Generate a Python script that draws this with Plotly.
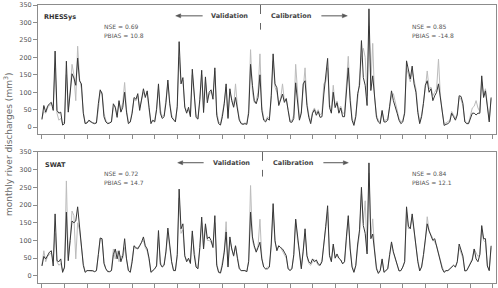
import plotly.graph_objects as go

months = list(range(240))
year_ticks = list(range(0, 241, 12))
y_ticks = [0, 50, 100, 150, 200, 250, 300, 350]

# RHESSys panel (dark / light lines), monthly values
rhessys_dark = [
    22, 62, 43, 60, 67, 71, 48, 218, 48, 40, 43, 6,
    10, 189, 43, 90, 153, 141, 120, 198, 133, 124, 40, 10,
    12, 20, 15, 12, 10, 12, 67, 107, 95, 30, 15, 10,
    12, 15, 67, 57, 28, 76, 43, 57, 100, 43, 10, 15,
    40, 85, 80, 96, 48, 80, 110, 85, 104, 57, 10, 20,
    15, 50, 124, 40, 25, 30, 70, 135, 67, 28, 20, 15,
    60, 245, 124, 142, 57, 40, 57, 30, 166, 80, 28, 23,
    80, 163, 42, 144, 70, 100, 107, 80, 170, 34, 10, 6,
    30, 67, 124, 25, 110, 76, 57, 85, 50, 20, 10, 8,
    10, 8, 40, 180, 120, 76, 67, 85, 150, 48, 20, 15,
    25, 20, 90, 210, 124, 113, 62, 78, 95, 71, 82, 48,
    15, 14, 25, 127, 82, 20, 40, 124, 133, 62, 28, 10,
    40, 50, 34, 45, 28, 30, 95, 140, 197, 57, 40, 100,
    56, 70, 40, 55, 30, 30, 100, 170, 76, 20, 5, 30,
    96, 120, 248, 142, 120, 62, 339, 105, 147, 76, 28, 15,
    10, 48, 15, 15, 20, 60, 104, 76, 60, 40, 20, 10,
    15, 40, 190, 160, 138, 175, 124, 100, 42, 10, 30, 68,
    120, 133, 100, 110, 76, 90, 100, 124, 80, 40, 5, 8,
    10, 15, 40, 30, 20, 35, 90, 88, 68, 15, 10, 10,
    25, 40, 40, 35, 40, 40, 147, 85, 104, 60, 15, 85,
]
rhessys_light = [
    25, 45, 40, 55, 62, 65, 60, 170, 40, 20, 25, 10,
    15, 150, 50, 100, 180, 150, 76, 232, 140, 110, 45, 12,
    14, 18, 14, 13, 12, 14, 50, 105, 100, 40, 20, 12,
    12, 18, 55, 60, 35, 70, 50, 70, 128, 50, 15, 14,
    45, 80, 75, 90, 55, 75, 100, 90, 95, 50, 15, 18,
    18, 55, 110, 50, 30, 35, 75, 125, 70, 35, 22, 18,
    55, 200, 130, 135, 60, 45, 50, 35, 150, 85, 35, 25,
    70, 150, 50, 130, 80, 95, 100, 90, 160, 45, 15, 10,
    35, 70, 115, 30, 100, 80, 60, 124, 60, 25, 12, 10,
    12, 10, 50, 222, 100, 70, 75, 100, 210, 60, 25, 18,
    30, 25, 80, 190, 115, 100, 70, 80, 124, 75, 80, 50,
    20, 18, 35, 180, 95, 25, 45, 110, 170, 70, 35, 15,
    45, 55, 40, 50, 35, 40, 125, 130, 170, 65, 50, 120,
    60, 75, 50, 60, 40, 40, 120, 203, 90, 25, 10, 35,
    80, 130, 200, 226, 200, 90, 290, 120, 240, 85, 35, 20,
    15, 45, 20, 20, 25, 55, 90, 96, 70, 45, 25, 15,
    20, 45, 170, 150, 130, 160, 130, 110, 50, 15, 35, 70,
    110, 161, 110, 115, 90, 100, 110, 195, 90, 45, 10, 12,
    15, 20, 45, 35, 25, 40, 85, 80, 60, 20, 12, 12,
    30, 55, 60, 76, 55, 45, 130, 90, 110, 65, 20, 80,
]

# SWAT panel (dark / light lines), monthly values
swat_dark = [
    28, 55, 48, 60, 67, 71, 28, 175, 43, 40, 48, 10,
    25, 180, 43, 100, 155, 150, 155, 195, 138, 76, 30, 10,
    15, 15, 15, 15, 12, 15, 60, 107, 105, 35, 20, 12,
    12, 15, 60, 76, 48, 71, 40, 57, 105, 48, 15, 10,
    40, 85, 80, 76, 85, 95, 110, 85, 76, 50, 10, 15,
    20, 28, 128, 33, 25, 30, 70, 135, 76, 40, 15, 15,
    60, 245, 133, 147, 57, 40, 50, 35, 127, 60, 25, 20,
    80, 166, 76, 147, 105, 110, 100, 80, 170, 30, 10, 8,
    30, 67, 124, 25, 110, 76, 57, 85, 50, 20, 15, 15,
    15, 12, 40, 180, 110, 85, 67, 80, 95, 48, 25, 20,
    20, 25, 90, 204, 100, 71, 85, 80, 76, 67, 57, 20,
    15, 20, 60, 160, 110, 71, 20, 70, 133, 57, 40, 35,
    48, 40, 45, 34, 30, 40, 85, 140, 198, 57, 40, 90,
    50, 62, 50, 45, 34, 40, 110, 170, 76, 25, 10, 30,
    90, 130, 250, 142, 120, 62, 319, 105, 118, 76, 20, 7,
    15, 48, 10, 15, 20, 60, 96, 68, 48, 30, 14, 15,
    25, 40, 195, 140, 133, 175, 127, 80, 40, 14, 25, 60,
    110, 147, 127, 110, 100, 105, 85, 60, 40, 20, 10, 15,
    15, 20, 25, 30, 25, 40, 90, 70, 56, 14, 15, 25,
    35, 45, 76, 48, 40, 60, 142, 105, 105, 28, 15, 85,
]
swat_light = [
    30, 71, 40, 55, 60, 65, 45, 120, 40, 30, 35, 15,
    20, 268, 50, 100, 183, 170, 48, 150, 130, 90, 35, 12,
    15, 15, 14, 14, 12, 14, 55, 105, 100, 40, 20, 14,
    12, 15, 76, 48, 71, 40, 57, 50, 80, 45, 15, 12,
    45, 85, 76, 80, 85, 95, 100, 80, 70, 45, 12, 15,
    20, 30, 110, 40, 25, 35, 65, 120, 70, 40, 18, 15,
    55, 220, 120, 130, 55, 45, 45, 40, 120, 65, 30, 22,
    75, 150, 80, 140, 100, 100, 95, 85, 150, 35, 12, 10,
    35, 70, 153, 30, 100, 76, 55, 85, 55, 25, 15, 15,
    15, 12, 45, 255, 100, 80, 70, 85, 160, 50, 25, 20,
    25, 25, 80, 180, 95, 75, 85, 80, 70, 60, 50, 20,
    18, 20, 55, 160, 100, 71, 25, 70, 120, 55, 35, 30,
    40, 45, 40, 30, 30, 45, 90, 130, 180, 60, 45, 85,
    55, 55, 50, 45, 35, 40, 100, 160, 80, 28, 12, 28,
    80, 120, 230, 150, 212, 70, 290, 110, 161, 76, 25, 10,
    15, 45, 12, 15, 20, 55, 90, 65, 50, 35, 15, 15,
    25, 40, 180, 133, 140, 165, 130, 85, 45, 18, 25, 55,
    100, 167, 127, 115, 105, 95, 85, 60, 45, 25, 12, 15,
    15, 18, 25, 30, 25, 40, 80, 65, 50, 15, 15, 25,
    40, 50, 76, 65, 55, 60, 130, 100, 95, 30, 15, 80,
]

DARK = "#363636"
LIGHT = "#bcbcbc"
FONT = "DejaVu Sans"

fig = go.Figure()
for yv, col, xa, ya in [
    (rhessys_light, LIGHT, "x", "y"),
    (rhessys_dark, DARK, "x", "y"),
    (swat_light, LIGHT, "x2", "y2"),
    (swat_dark, DARK, "x2", "y2"),
]:
    fig.add_trace(go.Scatter(x=months, y=yv, mode="lines",
                             line=dict(color=col, width=1),
                             xaxis=xa, yaxis=ya, showlegend=False,
                             hoverinfo="skip"))

W, H = 498, 288
ML, MR, MT, MB = 38, 1, 3, 3
PW, PH = W - ML - MR, H - MT - MB


def px(x):
    return (x - ML) / PW


def py(y):
    return (H - MB - y) / PH


axis_common = dict(showline=True, linecolor="#8c8c8c", linewidth=1, mirror=True,
                   ticks="outside", ticklen=4, tickcolor="#8c8c8c",
                   showgrid=False, zeroline=False)

fig.update_layout(
    width=W, height=H,
    margin=dict(l=ML, r=MR, t=MT, b=MB),
    paper_bgcolor="white", plot_bgcolor="white",
    font=dict(family=FONT, size=7, color="#555555"),
    xaxis=dict(range=[-2.1, 241.6], tickvals=year_ticks, showticklabels=False,
               anchor="y", domain=[0, 1], **axis_common),
    xaxis2=dict(range=[-2.1, 241.6], tickvals=year_ticks, showticklabels=False,
                anchor="y2", domain=[0, 1], **axis_common),
    yaxis=dict(range=[-20, 350], tickvals=y_ticks, domain=[py(134), 1],
               tickfont=dict(size=6.5, color="#555555"), anchor="x", **axis_common),
    yaxis2=dict(range=[-20, 350], tickvals=y_ticks, domain=[0, py(152)],
                tickfont=dict(size=6.5, color="#555555"), anchor="x2", **axis_common),
)

ann = []


def text(x, y, t, size=6, bold=False, color="#555555"):
    ann.append(dict(x=px(x), y=py(y), xref="paper", yref="paper", text=f"<b>{t}</b>" if bold else t,
                    showarrow=False, xanchor="left", yanchor="middle",
                    font=dict(family=FONT, size=size, color=color)))


# top panel labels
text(42, 15, "RHESSys", size=6.5, bold=True, color="#333333")
text(102, 25, "NSE = 0.69")
text(102, 34, "PBIAS = 10.8")
text(411, 25, "NSE = 0.85")
text(411, 34, "PBIAS = -14.8")
text(209, 14, "Validation", size=6.5, bold=True, color="#444444")
text(270, 14, "Calibration", size=6.5, bold=True, color="#444444")

# bottom panel labels
text(43, 165, "SWAT", size=6.5, bold=True, color="#333333")
text(102, 174, "NSE = 0.72")
text(102, 183, "PBIAS = 14.7")
text(411, 174, "NSE = 0.84")
text(411, 183, "PBIAS = 12.1")
text(211, 163, "Validation", size=6.5, bold=True, color="#444444")
text(272, 163, "Calibration", size=6.5, bold=True, color="#444444")

# y-axis title
ann.append(dict(x=px(8), y=py(144), xref="paper", yref="paper",
                text="monthly river discharges (mm<sup>3</sup>)", textangle=-90,
                showarrow=False, xanchor="center", yanchor="middle",
                font=dict(family=FONT, size=9, color="#6a6a6a")))

fig.update_layout(annotations=ann)

ACOL = "#555555"


def arrow_shapes(x_tail, x_head, y):
    d = 1 if x_head > x_tail else -1
    hx = x_head - d * 5
    line = dict(type="line", xref="paper", yref="paper",
                x0=px(x_tail), x1=px(hx), y0=py(y), y1=py(y),
                line=dict(color=ACOL, width=1))
    head = dict(type="path", xref="paper", yref="paper",
                path=f"M {px(x_head)} {py(y)} L {px(hx)} {py(y - 2)} L {px(hx)} {py(y + 2)} Z",
                fillcolor=ACOL, line=dict(color=ACOL, width=0.5))
    return [line, head]


shapes = [
    dict(type="line", xref="paper", yref="paper", x0=px(261), x1=px(261), y0=py(3), y1=py(28),
         line=dict(color="#666666", width=1, dash="dash")),
    dict(type="line", xref="paper", yref="paper", x0=px(263), x1=px(263), y0=py(152), y1=py(177),
         line=dict(color="#666666", width=1, dash="dash")),
]
shapes += arrow_shapes(203, 176, 14)
shapes += arrow_shapes(322, 348, 14)
shapes += arrow_shapes(204, 178, 163)
shapes += arrow_shapes(324, 349, 163)
fig.update_layout(shapes=shapes)

fig.write_html("out.html")
